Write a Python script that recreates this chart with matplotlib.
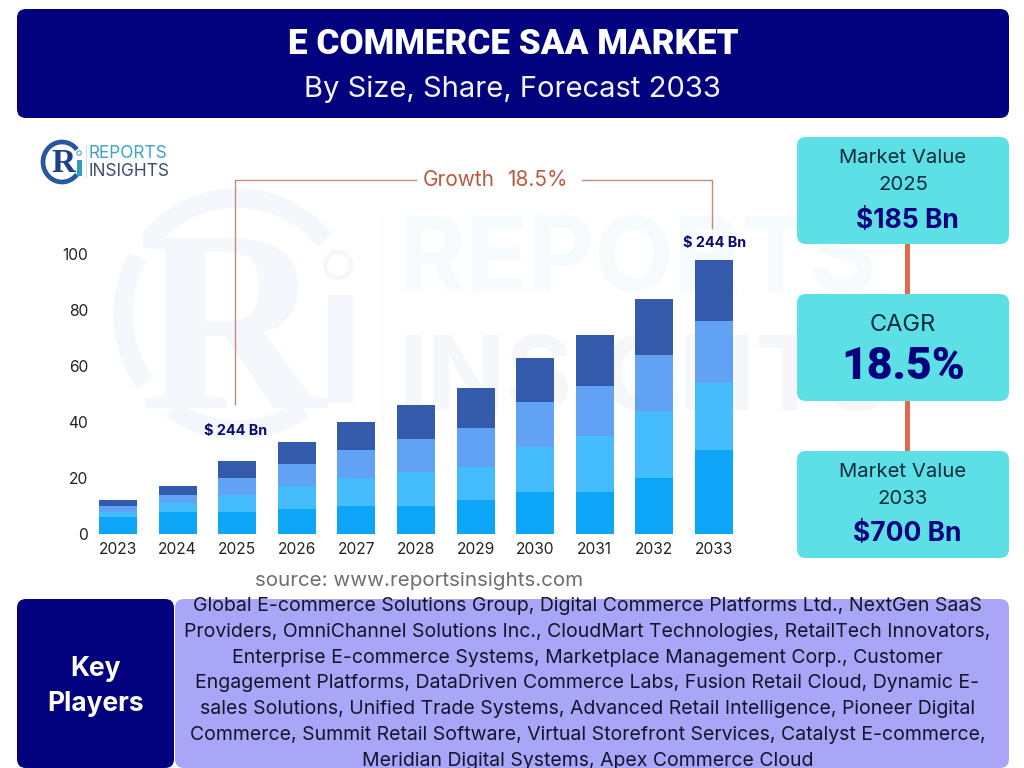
import matplotlib
matplotlib.use("Agg")
import matplotlib.pyplot as plt
from matplotlib.patches import FancyBboxPatch, Arc, Circle, Rectangle

years = ["2023","2024","2025","2026","2027","2028","2029","2030","2031","2032","2033"]
seg1 = [6,8,8,9,10,10,12,15,15,20,30]
seg2 = [2,3,6,8,10,12,12,16,20,24,24]
seg3 = [2,3,6,8,10,12,14,16,18,20,22]
seg4 = [2,3,6,8,10,12,14,16,18,20,22]
seg_colors = ["#0DA5F8","#45BDFD","#62A2F5","#345AAC"]
yticks = [0,20,40,60,80,100]
title = "E COMMERCE SAA MARKET"
subtitle = "By Size, Share, Forecast 2033"
players = ["Global E-commerce Solutions Group, Digital Commerce Platforms Ltd., NextGen SaaS",
"Providers, OmniChannel Solutions Inc., CloudMart Technologies, RetailTech Innovators,",
"Enterprise E-commerce Systems, Marketplace Management Corp., Customer",
"Engagement Platforms, DataDriven Commerce Labs, Fusion Retail Cloud, Dynamic E-",
"sales Solutions, Unified Trade Systems, Advanced Retail Intelligence, Pioneer Digital",
"Commerce, Summit Retail Software, Virtual Storefront Services, Catalyst E-commerce,",
"Meridian Digital Systems, Apex Commerce Cloud"]

plt.rcParams['font.family'] = ['Inter','DejaVu Sans']
fig = plt.figure(figsize=(1024/100,768/100), dpi=100)
bg = fig.add_axes([0,0,1,1]); bg.set_xlim(0,1024); bg.set_ylim(768,0); bg.axis('off')
NAVY="#02027F"; TEAL="#5CE0E6"; LAV="#A9A6F8"; ORANGE="#DE6C4C"; LINE="#C98A7C"

def box(x0,y0,x1,y1,c,r=9,z=2):
    bg.add_patch(FancyBboxPatch((x0+r,y0+r),x1-x0-2*r,y1-y0-2*r,boxstyle=f"round,pad={r},rounding_size={r}",fc=c,ec='none',zorder=z))

# watermark (y axis is inverted, so arc angles run clockwise on screen)
wm="#F4F7FB"
for t1,t2 in [(143,210),(220,320),(55,125)]:
    bg.add_patch(Arc((237,314),228,232,theta1=t1,theta2=t2,lw=14,color=wm,zorder=0))
bg.text(232,346,"R",fontsize=186,family='Liberation Serif',fontweight='bold',color=wm,ha='center',va='center',zorder=0)
bg.add_patch(Rectangle((328,295),25,108,fc=wm,ec='none',zorder=0))
bg.add_patch(Circle((338,265),13,fc='none',ec=wm,lw=3.5,zorder=0))
bg.plot([382,382],[215,420],color="#F7F8FA",lw=1,zorder=0)
bg.text(398,264,"REPORTS",fontsize=74,fontweight='bold',color="#F5FAFD",ha='left',va='center',zorder=0)
bg.text(398,383,"INSIGHTS",fontsize=74,fontweight='bold',color="#F6F7FA",ha='left',va='center',zorder=0)

# header
box(17,9,1009,118,NAVY)
bg.text(513,44,title,fontsize=25.2,family='Roboto',fontweight='heavy',color='white',ha='center',va='center',zorder=3)
bg.text(512,89,subtitle,fontsize=21,color='#F4F4FF',ha='center',va='center',zorder=3)

# logo
bg.add_patch(Arc((62,162),38,40,theta1=40,theta2=320,lw=3.4,color="#27589F",zorder=3))
bg.text(63,164,"R",fontsize=24,family='Liberation Serif',fontweight='bold',color="#1F3F87",ha='center',va='center',zorder=3)
bg.add_patch(Rectangle((77,160),4.5,16,fc="#2D9CC4",ec='none',zorder=3))
bg.add_patch(Circle((79,153),2.2,fc='white',ec="#4AA7C8",lw=0.8,zorder=3))
bg.plot([86,86],[145,177],color="#D8DEE6",lw=0.8,zorder=3)
bg.text(89,153,"REPORTS",fontsize=12.4,color="#3DA3C9",ha='left',va='center',zorder=3)
bg.text(89,172,"INSIGHTS",fontsize=12.4,color="#3F4B6B",ha='left',va='center',zorder=3)

# chart
ax = fig.add_axes([0,0,1,1]); ax.patch.set_alpha(0)
ax.set_xlim(-118/59.6, (1024-118)/59.6)
ax.set_ylim(-(768-534)/2.8, 534/2.8)
ax.axis('off')
xs = range(len(years))
bottom=[0]*len(years)
for vals,c in zip([seg1,seg2,seg3,seg4],seg_colors):
    ax.bar(xs,vals,width=0.635,bottom=bottom,color=c,edgecolor='none',zorder=2)
    bottom=[a+b for a,b in zip(bottom,vals)]
for i,y in zip(xs,years):
    ax.text(i,-5.6,y,fontsize=11.2,color='#222222',ha='center',va='center')
for t in yticks:
    ax.text(-0.5,t-0.7,str(t),fontsize=11.2,color='#222222',ha='right',va='center')

# annotation (figure-pixel space)
bg.plot([235,235,416],[404,180,180],color=LINE,lw=1,zorder=3)
bg.plot([582,712,712],[180,180,228],color=LINE,lw=1,zorder=3)
bg.text(423,180,"Growth",fontsize=15,color="#BC5A40",ha='left',va='center',zorder=3)
bg.text(568,180,"18.5%",fontsize=15,color="#BC5A40",ha='right',va='center',zorder=3)
bg.text(235.5,431,"$ 244 Bn",fontsize=10.4,fontweight='bold',color="#0C0C70",ha='center',va='center',zorder=3)
bg.text(715,243,"$ 244 Bn",fontsize=10.4,fontweight='bold',color="#0C0C70",ha='center',va='center',zorder=3)
bg.text(419,581,"source: www.reportsinsights.com",fontsize=14.8,color='#6E6E6E',ha='center',va='center',zorder=3)

# right panel
bg.add_patch(Rectangle((905,240),5,58,fc=ORANGE,ec='none',zorder=1))
bg.add_patch(Rectangle((905,397),5,58,fc=ORANGE,ec='none',zorder=1))
box(797,137,1009,244,TEAL)
box(797,294,1009,401,TEAL)
box(797,451,1009,558,TEAL)
dk="#0B2A3C"
bg.text(903,158,"Market Value",fontsize=14.6,color=dk,ha='center',va='center',zorder=3)
bg.text(903,185,"2025",fontsize=14.6,color=dk,ha='center',va='center',zorder=3)
bg.text(907,221,"$185 Bn",fontsize=19,fontweight='bold',color=NAVY,ha='center',va='center',zorder=3)
bg.text(903,325,"CAGR",fontsize=17,color=dk,ha='center',va='center',zorder=3)
bg.text(903,367,"18.5%",fontsize=32,family='Roboto',fontweight='heavy',color=NAVY,ha='center',va='center',zorder=3)
bg.text(903,472,"Market Value",fontsize=14.6,color=dk,ha='center',va='center',zorder=3)
bg.text(903,499,"2033",fontsize=14.6,color=dk,ha='center',va='center',zorder=3)
bg.text(907,534,"$700 Bn",fontsize=19,fontweight='bold',color=NAVY,ha='center',va='center',zorder=3)

# key players
box(17,599,174,768,NAVY,r=9)
box(175,599,1009,768,LAV,r=9)
bg.text(96,669,"Key",fontsize=19,fontweight='bold',color='white',ha='center',va='center',zorder=3)
bg.text(96,704,"Players",fontsize=19,fontweight='bold',color='white',ha='center',va='center',zorder=3)
for i,l in enumerate(players):
    bg.text(587.5,606+i*25.8,l,fontsize=14,color='#14142B',ha='center',va='center',zorder=3)

fig.savefig("out.png",dpi=100)
